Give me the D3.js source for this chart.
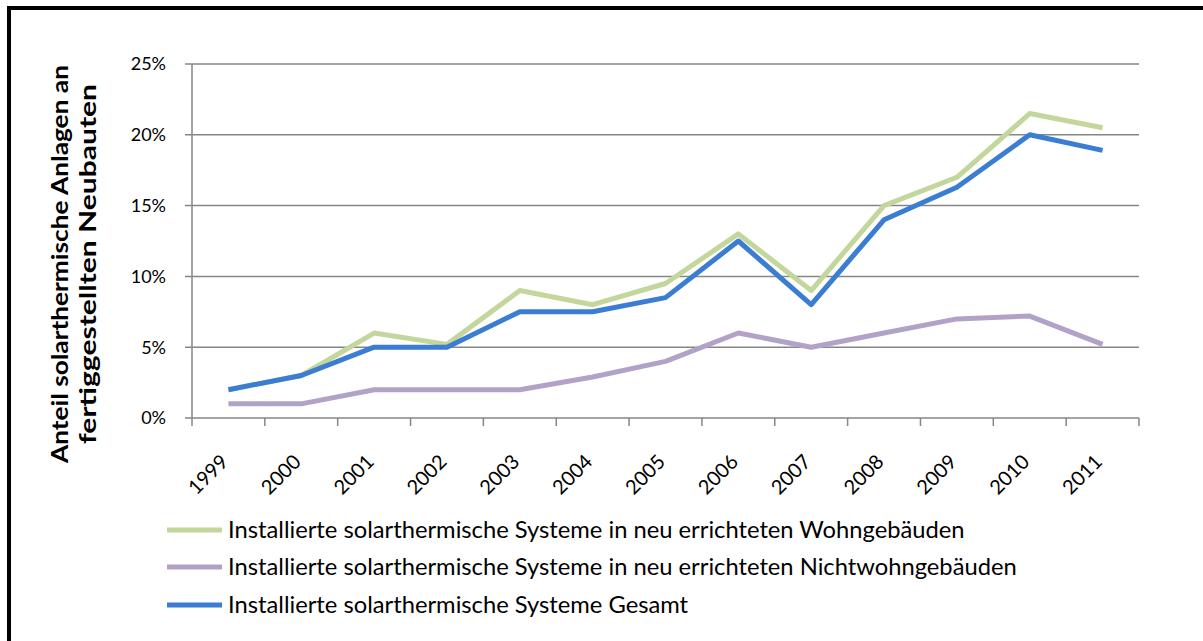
<!DOCTYPE html>
<html>
<head>
<meta charset="utf-8">
<script src="https://cdn.jsdelivr.net/npm/d3@7"></script>
<style>
  body { margin: 0; background: #fff; }
  svg { display: block; font-family: Lato, "Open Sans", sans-serif; }
</style>
</head>
<body>
<div id="chart"></div>
<script>
// Data (percent)
const years = ["1999", "2000", "2001", "2002", "2003", "2004", "2005", "2006", "2007", "2008", "2009", "2010", "2011"];
const wohn = [2, 3, 6, 5.2, 9, 8, 9.5, 13, 9, 15, 17, 21.5, 20.5];
const nichtwohn = [1, 1, 2, 2, 2, 2.9, 4, 6, 5, 6, 7, 7.2, 5.2];
const gesamt = [2, 3, 5, 5, 7.5, 7.5, 8.5, 12.5, 8, 14, 16.3, 20, 18.9];
const yTicks = [0, 5, 10, 15, 20, 25];

const seriesNames = [
  "Installierte solarthermische Systeme in neu errichteten Wohngebäuden",
  "Installierte solarthermische Systeme in neu errichteten Nichtwohngebäuden",
  "Installierte solarthermische Systeme Gesamt"
];
const seriesColors = ["#c3d69b", "#b3a2c7", "#3a7dd2"];
const series = [wohn, nichtwohn, gesamt];

const width = 1203, height = 641;
const plot = { left: 192, right: 1139, top: 64, bottom: 418 };

const svg = d3.select("#chart")
  .append("svg")
  .attr("width", width)
  .attr("height", height);

// outer frame (only top and left edges fall inside the picture)
svg.append("rect")
  .attr("x", 9)
  .attr("y", 8)
  .attr("width", width + 20)
  .attr("height", height + 20)
  .attr("fill", "none")
  .attr("stroke", "#000")
  .attr("stroke-width", 4);

const x = d3.scaleBand()
  .domain(years)
  .range([plot.left, plot.right]);

const y = d3.scaleLinear()
  .domain([0, 25])
  .range([plot.bottom, plot.top]);

// horizontal gridlines
svg.append("g")
  .selectAll("line")
  .data(yTicks)
  .join("line")
  .attr("x1", plot.left - 7)
  .attr("x2", plot.right)
  .attr("y1", d => y(d))
  .attr("y2", d => y(d))
  .attr("stroke", "#868686")
  .attr("stroke-width", 1.5);

// y axis line
svg.append("line")
  .attr("x1", plot.left)
  .attr("x2", plot.left)
  .attr("y1", plot.top)
  .attr("y2", plot.bottom + 8)
  .attr("stroke", "#868686")
  .attr("stroke-width", 1.5);

// x ticks at band edges
const edges = years.map(d => x(d)).concat([plot.right]);
svg.append("g")
  .selectAll("line")
  .data(edges.slice(1))
  .join("line")
  .attr("x1", d => d)
  .attr("x2", d => d)
  .attr("y1", plot.bottom)
  .attr("y2", plot.bottom + 8)
  .attr("stroke", "#868686")
  .attr("stroke-width", 1.5);

// y tick labels
svg.append("g")
  .selectAll("text")
  .data(yTicks)
  .join("text")
  .attr("x", 166)
  .attr("y", d => y(d))
  .attr("dy", "0.36em")
  .attr("text-anchor", "end")
  .attr("font-size", "18px")
  .attr("fill", "#000")
  .text(d => d + "%");

// x tick labels, rotated
svg.append("g")
  .selectAll("text")
  .data(years)
  .join("text")
  .attr("transform", d => `translate(${x(d) + x.bandwidth() / 2 + 1},463) rotate(-45)`)
  .attr("text-anchor", "end")
  .attr("font-size", "20px")
  .attr("fill", "#000")
  .text(d => d);

// y axis title
const title = svg.append("g")
  .attr("font-weight", "bold")
  .attr("font-size", "22px")
  .attr("fill", "#000");

title.append("text")
  .attr("transform", "translate(68,264) rotate(-90)")
  .attr("text-anchor", "middle")
  .attr("textLength", 398)
  .attr("lengthAdjust", "spacingAndGlyphs")
  .text("Anteil solarthermische  Anlagen an");

title.append("text")
  .attr("transform", "translate(96,264) rotate(-90)")
  .attr("text-anchor", "middle")
  .attr("textLength", 360)
  .attr("lengthAdjust", "spacingAndGlyphs")
  .text("fertiggestellten Neubauten");

// lines
const line = d3.line()
  .x((d, i) => x(years[i]) + x.bandwidth() / 2)
  .y(d => y(d));

svg.append("g")
  .selectAll("path")
  .data(series)
  .join("path")
  .attr("d", d => line(d))
  .attr("fill", "none")
  .attr("stroke", (d, i) => seriesColors[i])
  .attr("stroke-width", 5)
  .attr("stroke-linejoin", "round");

// legend
const legend = svg.append("g");
const legendY = [530, 567, 605];
seriesNames.forEach((name, i) => {
  legend.append("line")
    .attr("x1", 167)
    .attr("x2", 222)
    .attr("y1", legendY[i])
    .attr("y2", legendY[i])
    .attr("stroke", seriesColors[i])
    .attr("stroke-width", 5);

  legend.append("text")
    .attr("x", 228)
    .attr("y", legendY[i])
    .attr("dy", "0.35em")
    .attr("font-size", "22px")
    .attr("fill", "#000")
    .text(name);
});
// fit the first entry to the reference width (~737px), scale the others alike
const firstW = legend.select("text").node().getComputedTextLength();
legend.selectAll("text").attr("font-size", (22 * 737 / firstW) + "px");
</script>
</body>
</html>
